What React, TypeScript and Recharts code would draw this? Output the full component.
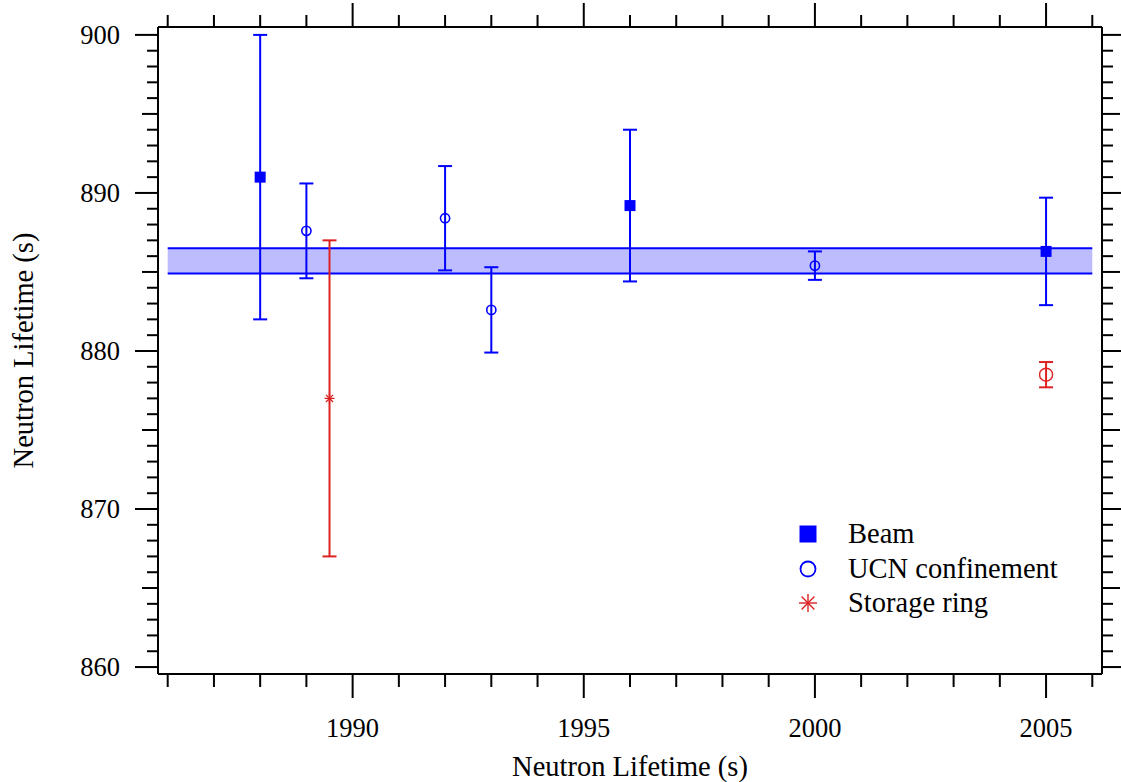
import React from 'react';
import {
  ComposedChart,
  XAxis,
  YAxis,
  Scatter,
  ErrorBar,
  ReferenceArea,
  ReferenceLine,
  Legend,
} from 'recharts';

// ---------- data ----------
const beamYears = [1988, 1996, 2005];
const beamValues = [891.0, 889.2, 886.3];
const beamErrors = [9.0, 4.8, 3.4];

const ucnYears = [1989, 1992, 1993, 2000];
const ucnValues = [887.6, 888.4, 882.6, 885.4];
const ucnErrors = [3.0, 3.3, 2.7, 0.9];

const storageYears = [1989.5];
const storageValues = [877.0];
const storageErrors = [10.0];

const redUcnYears = [2005];
const redUcnValues = [878.5];
const redUcnErrors = [0.8];

const bandLow = 884.9;
const bandHigh = 886.5;
const bandStart = 1986;
const bandEnd = 2006;

const xDomain: [number, number] = [1985.79, 2006.21];
const yDomain: [number, number] = [859.56, 900.5];
const xTicks = Array.from({ length: 21 }, (_, i) => 1986 + i);
const yTicks = Array.from({ length: 41 }, (_, i) => 860 + i);
const xLabelTicks = [1990, 1995, 2000, 2005];
const yLabelTicks = [860, 870, 880, 890, 900];

const xTitle = 'Neutron Lifetime (s)';
const yTitle = 'Neutron Lifetime (s)';

const legendItems = [
  { name: 'Beam', kind: 'square' },
  { name: 'UCN confinement', kind: 'circle' },
  { name: 'Storage ring', kind: 'star' },
];

// ---------- style ----------
const BLUE = '#0000ff';
const RED = '#dd2222';
const FONT = "'Liberation Serif', 'Times New Roman', Times, serif";
const TICK_FS = 26.5;
const TITLE_FS = 28.5;

const toRows = (xs: number[], ys: number[], es: number[]) =>
  xs.map((x, i) => ({ year: x, value: ys[i], err: es[i] }));

const beamData = toRows(beamYears, beamValues, beamErrors);
const ucnData = toRows(ucnYears, ucnValues, ucnErrors);
const storageData = toRows(storageYears, storageValues, storageErrors);
const redUcnData = toRows(redUcnYears, redUcnValues, redUcnErrors);

// ---------- shapes ----------
const SquareShape = (p: any) => (
  <rect x={p.cx - 5.5} y={p.cy - 5.5} width={11} height={11} fill={BLUE} />
);
const CircleShape = (p: any) => (
  <circle cx={p.cx} cy={p.cy} r={4.6} fill="none" stroke={BLUE} strokeWidth={1.6} />
);
const RedCircleShape = (p: any) => (
  <circle cx={p.cx} cy={p.cy} r={6.5} fill="none" stroke={RED} strokeWidth={1.4} />
);
const StarShape = (p: any) => {
  const r = 5;
  const d = r * 0.7071;
  return (
    <g stroke={RED} strokeWidth={1.3}>
      <line x1={p.cx - r} y1={p.cy} x2={p.cx + r} y2={p.cy} />
      <line x1={p.cx} y1={p.cy - r} x2={p.cx} y2={p.cy + r} />
      <line x1={p.cx - d} y1={p.cy - d} x2={p.cx + d} y2={p.cy + d} />
      <line x1={p.cx - d} y1={p.cy + d} x2={p.cx + d} y2={p.cy - d} />
    </g>
  );
};

// ---------- ticks ----------
const LeftTick = (props: any) => {
  const { x, y, payload } = props;
  const v = Math.round(payload.value);
  const len = v % 10 === 0 ? 23 : v % 5 === 0 ? 16 : 11;
  return (
    <g>
      <line x1={x - len} y1={y} x2={x} y2={y} stroke="#000" strokeWidth={2} />
      {yLabelTicks.includes(v) && (
        <text x={x - 38} y={y + 9} textAnchor="end" fontFamily={FONT} fontSize={TICK_FS} fill="#000">
          {v}
        </text>
      )}
    </g>
  );
};
const RightTick = (props: any) => {
  const { x, y, payload } = props;
  const v = Math.round(payload.value);
  const len = v % 10 === 0 ? 22 : v % 5 === 0 ? 18 : 11;
  return <line x1={x} y1={y} x2={x + len} y2={y} stroke="#000" strokeWidth={2} />;
};
const BottomTick = (props: any) => {
  const { x, y, payload } = props;
  const v = Math.round(payload.value);
  const major = v % 5 === 0;
  return (
    <g>
      <line x1={x} y1={y} x2={x} y2={y + (major ? 24 : 13)} stroke="#000" strokeWidth={2} />
      {xLabelTicks.includes(v) && (
        <text x={x} y={y + 63} textAnchor="middle" fontFamily={FONT} fontSize={TICK_FS} fill="#000">
          {v}
        </text>
      )}
    </g>
  );
};
const TopTick = (props: any) => {
  const { x, y, payload } = props;
  const v = Math.round(payload.value);
  const major = v % 5 === 0;
  return <line x1={x} y1={y} x2={x} y2={y - (major ? 24 : 12)} stroke="#000" strokeWidth={2} />;
};

const LegendIcon = ({ kind }: { kind: string }) => (
  <svg width={20} height={20} style={{ display: 'block' }}>
    {kind === 'square' && <rect x={1.5} y={1.5} width={17} height={17} fill={BLUE} />}
    {kind === 'circle' && <circle cx={10} cy={10} r={7.5} fill="none" stroke={BLUE} strokeWidth={1.8} />}
    {kind === 'star' && (
      <g stroke={RED} strokeWidth={1.4}>
        <line x1={1} y1={10} x2={19} y2={10} />
        <line x1={10} y1={1} x2={10} y2={19} />
        <line x1={3.6} y1={3.6} x2={16.4} y2={16.4} />
        <line x1={3.6} y1={16.4} x2={16.4} y2={3.6} />
      </g>
    )}
  </svg>
);

const LegendContent = () => (
  <div style={{ fontFamily: FONT, fontSize: TITLE_FS, color: '#000' }}>
    {legendItems.map((it) => (
      <div
        key={it.name}
        style={{ display: 'flex', alignItems: 'center', height: 34.5, lineHeight: '34.5px', whiteSpace: 'nowrap' }}
      >
        <LegendIcon kind={it.kind} />
        <span style={{ marginLeft: 30 }}>{it.name}</span>
      </div>
    ))}
  </div>
);

const axisLine = { stroke: '#000', strokeWidth: 2 };

export default function App() {
  return (
    <div style={{ position: 'absolute', left: 0, top: 0, width: 1121, height: 782, background: '#fff' }}>
      <ComposedChart width={1121} height={782} margin={{ top: 0, right: 0, bottom: 0, left: 0 }}>
        <XAxis
          xAxisId="bottom"
          type="number"
          dataKey="year"
          orientation="bottom"
          domain={xDomain}
          allowDataOverflow
          ticks={xTicks}
          interval={0}
          height={108}
          tickSize={0}
          tickMargin={0}
          tickLine={false}
          axisLine={axisLine}
          tick={BottomTick}
          label={(p: any) => {
            const vb = p.viewBox;
            return (
              <text
                x={vb.x + vb.width / 2}
                y={776}
                textAnchor="middle"
                fontFamily={FONT}
                fontSize={TITLE_FS}
                fill="#000"
              >
                {xTitle}
              </text>
            );
          }}
        />
        <XAxis
          xAxisId="top"
          type="number"
          dataKey="year"
          orientation="top"
          domain={xDomain}
          allowDataOverflow
          ticks={xTicks}
          interval={0}
          height={27}
          tickSize={0}
          tickMargin={0}
          tickLine={false}
          axisLine={axisLine}
          tick={TopTick}
        />
        <YAxis
          yAxisId="left"
          type="number"
          dataKey="value"
          orientation="left"
          domain={yDomain}
          allowDataOverflow
          ticks={yTicks}
          interval={0}
          width={158}
          tickSize={0}
          tickMargin={0}
          tickLine={false}
          axisLine={axisLine}
          tick={LeftTick}
          label={(p: any) => {
            const vb = p.viewBox;
            const cy = vb.y + vb.height / 2;
            return (
              <text
                x={33}
                y={cy}
                transform={`rotate(-90, 33, ${cy})`}
                textAnchor="middle"
                fontFamily={FONT}
                fontSize={TITLE_FS}
                fill="#000"
              >
                {yTitle}
              </text>
            );
          }}
        />
        <YAxis
          yAxisId="right"
          type="number"
          dataKey="value"
          orientation="right"
          domain={yDomain}
          allowDataOverflow
          ticks={yTicks}
          interval={0}
          width={19}
          tickSize={0}
          tickMargin={0}
          tickLine={false}
          axisLine={axisLine}
          tick={RightTick}
        />

        <ReferenceArea
          xAxisId="bottom"
          yAxisId="left"
          x1={bandStart}
          x2={bandEnd}
          y1={bandLow}
          y2={bandHigh}
          fill="#bcbcff"
          fillOpacity={1}
          stroke="none"
        />
        <ReferenceLine
          xAxisId="bottom"
          yAxisId="left"
          segment={[
            { x: bandStart, y: bandHigh },
            { x: bandEnd, y: bandHigh },
          ]}
          stroke={BLUE}
          strokeWidth={2}
        />
        <ReferenceLine
          xAxisId="bottom"
          yAxisId="left"
          segment={[
            { x: bandStart, y: bandLow },
            { x: bandEnd, y: bandLow },
          ]}
          stroke={BLUE}
          strokeWidth={2}
        />

        <Scatter
          name="Beam"
          data={beamData}
          xAxisId="bottom"
          yAxisId="left"
          shape={SquareShape}
          isAnimationActive={false}
        >
          <ErrorBar dataKey="err" direction="y" width={7} stroke={BLUE} strokeWidth={2} isAnimationActive={false} />
        </Scatter>
        <Scatter
          name="UCN confinement"
          data={ucnData}
          xAxisId="bottom"
          yAxisId="left"
          shape={CircleShape}
          isAnimationActive={false}
        >
          <ErrorBar dataKey="err" direction="y" width={7} stroke={BLUE} strokeWidth={2} isAnimationActive={false} />
        </Scatter>
        <Scatter
          name="Storage ring"
          data={storageData}
          xAxisId="bottom"
          yAxisId="left"
          shape={StarShape}
          isAnimationActive={false}
        >
          <ErrorBar dataKey="err" direction="y" width={7} stroke={RED} strokeWidth={2} isAnimationActive={false} />
        </Scatter>
        <Scatter
          name="UCN confinement (2005)"
          data={redUcnData}
          xAxisId="bottom"
          yAxisId="left"
          shape={RedCircleShape}
          isAnimationActive={false}
        >
          <ErrorBar dataKey="err" direction="y" width={7} stroke={RED} strokeWidth={2} isAnimationActive={false} />
        </Scatter>

        <Legend
          layout="vertical"
          align="center"
          verticalAlign="middle"
          content={LegendContent}
          wrapperStyle={{ left: 798, top: 517, width: 300, height: 110 }}
        />
      </ComposedChart>
    </div>
  );
}
